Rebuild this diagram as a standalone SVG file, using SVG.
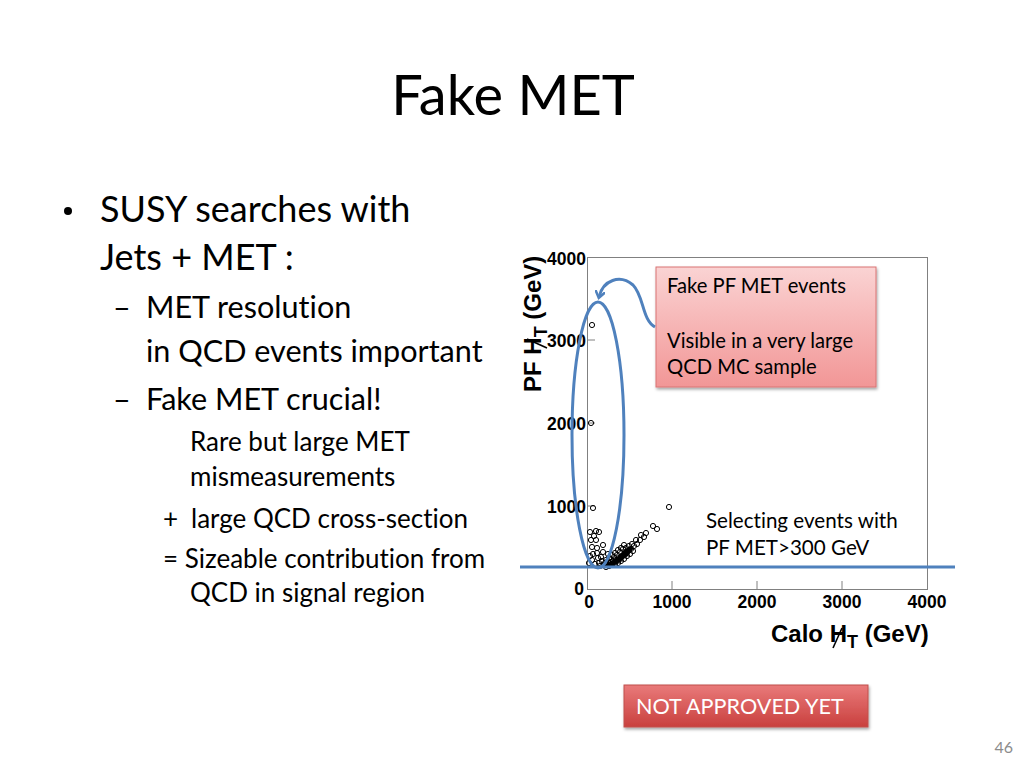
<svg xmlns="http://www.w3.org/2000/svg" width="1024" height="768" viewBox="0 0 1024 768">
<defs>
<style>
.t{font-family:Lato,"Open Sans",sans-serif;fill:#000;font-variant-ligatures:none}
.ax{font-family:"Liberation Sans",Arial,sans-serif;font-weight:bold;fill:#000}
.blue{fill:none;stroke:#4F81BD;stroke-width:3}
.pt{fill:none;stroke:#000;stroke-width:1}
</style>
<linearGradient id="pink" x1="0" y1="0" x2="0" y2="1">
<stop offset="0" stop-color="#FAD3D3"/>
<stop offset="1" stop-color="#F29696"/>
</linearGradient>
<linearGradient id="red" x1="0" y1="0" x2="0" y2="1">
<stop offset="0" stop-color="#E97A7A"/>
<stop offset="1" stop-color="#C9403E"/>
</linearGradient>
<filter id="sh" x="-10%" y="-10%" width="130%" height="140%">
<feDropShadow dx="1" dy="2" stdDeviation="1.5" flood-color="#000" flood-opacity="0.35"/>
</filter>
<marker id="ah" markerWidth="10" markerHeight="10" refX="6" refY="5" orient="auto" markerUnits="userSpaceOnUse">
<path d="M0,0 L7,5 L0,10" fill="none" stroke="#4F81BD" stroke-width="2.5"/>
</marker>
</defs>
<rect width="1024" height="768" fill="#fff"/>

<g id="title"><text class="t" x="513" y="115" font-size="56" text-anchor="middle">Fake MET</text></g>

<g id="bullets">
<circle cx="68" cy="211" r="4" fill="#000"/>
<text class="t" x="100" y="222" font-size="36">SUSY searches with</text>
<text class="t" x="100" y="270" font-size="36">Jets + MET :</text>
<text class="t" x="113" y="318" font-size="30.6">–</text>
<text class="t" x="146" y="318" font-size="30.6">MET resolution</text>
<text class="t" x="146" y="362" font-size="30.6">in QCD events important</text>
<text class="t" x="113" y="410" font-size="30.6">–</text>
<text class="t" x="146" y="410" font-size="30.6">Fake MET crucial!</text>
<text class="t" x="190" y="451" font-size="26">Rare but large MET</text>
<text class="t" x="190" y="486" font-size="26">mismeasurements</text>
<text class="t" x="163" y="528" font-size="26">+</text>
<text class="t" x="191" y="528" font-size="26">large QCD cross-section</text>
<text class="t" x="163" y="568" font-size="26">= Sizeable contribution from</text>
<text class="t" x="190" y="602" font-size="26">QCD in signal region</text>
</g>

<g id="plot">
<rect x="587.5" y="257.5" width="340" height="332" fill="none" stroke="#808080" stroke-width="1"/>
<g stroke="#808080" stroke-width="1">
<line x1="672" y1="589" x2="672" y2="581"/>
<line x1="757" y1="589" x2="757" y2="581"/>
<line x1="842" y1="589" x2="842" y2="581"/>
<line x1="587" y1="340" x2="595" y2="340"/>
<line x1="587" y1="423" x2="595" y2="423"/>
<line x1="587" y1="506" x2="595" y2="506"/>
</g>
<g class="ax" font-size="17.5" text-anchor="end">
<text x="586" y="265">4000</text>
<text x="586" y="347">3000</text>
<text x="586" y="430">2000</text>
<text x="586" y="513">1000</text>
<text x="584" y="595">0</text>
</g>
<g class="ax" font-size="17.5" text-anchor="middle">
<text x="589" y="608">0</text>
<text x="672" y="608">1000</text>
<text x="757" y="608">2000</text>
<text x="842" y="608">3000</text>
<text x="927" y="608">4000</text>
</g>
<text class="ax" x="771" y="642" font-size="24">Calo H<tspan font-size="18" dy="6">T</tspan><tspan dy="-6"> (GeV)</tspan></text>
<line x1="833" y1="648" x2="842" y2="628" stroke="#000" stroke-width="1.6"/>
<g transform="translate(541,392) rotate(-90)">
<text class="ax" x="0" y="0" font-size="24">PF H<tspan font-size="18" dy="6">T</tspan><tspan dy="-6"> (GeV)</tspan></text>
<line x1="44" y1="6" x2="53" y2="-14" stroke="#000" stroke-width="1.6"/>
</g>
<g id="points" class="pt">
<path d="M602,567 L612,561 L622,553 L630,546 L634,548 L628,556 L618,563 L610,567 Z" fill="#000" stroke="none"/>
<circle cx="592" cy="325" r="2.6"/>
<circle cx="591" cy="423" r="2.6"/>
<circle cx="593" cy="508" r="2.6"/>
<circle cx="669" cy="507" r="2.6"/>
<circle cx="590" cy="532" r="2.6"/><circle cx="596" cy="531" r="2.6"/><circle cx="599" cy="532" r="2.6"/>
<circle cx="591" cy="540" r="2.6"/><circle cx="596" cy="540" r="2.6"/><circle cx="592" cy="547" r="2.6"/>
<circle cx="597" cy="548" r="2.6"/><circle cx="593" cy="554" r="2.6"/><circle cx="592" cy="560" r="2.6"/>
<circle cx="603" cy="552" r="2.6"/><circle cx="598" cy="558" r="2.6"/><circle cx="589" cy="563" r="2.6"/>
<circle cx="595" cy="564" r="2.6"/><circle cx="590" cy="556" r="2.6"/>
<circle cx="653" cy="526" r="2.6"/><circle cx="657" cy="529" r="2.6"/><circle cx="646" cy="533" r="2.6"/>
<circle cx="644" cy="537" r="2.6"/><circle cx="640" cy="540" r="2.6"/><circle cx="637" cy="544" r="2.6"/>
<circle cx="634" cy="546" r="2.6"/><circle cx="631" cy="549" r="2.6"/><circle cx="628" cy="551" r="2.6"/>
<circle cx="625" cy="553" r="2.6"/><circle cx="629" cy="546" r="2.6"/><circle cx="622" cy="556" r="2.6"/>
<circle cx="619" cy="558" r="2.6"/><circle cx="616" cy="560" r="2.6"/><circle cx="613" cy="561" r="2.6"/>
<circle cx="610" cy="563" r="2.6"/><circle cx="607" cy="564" r="2.6"/><circle cx="604" cy="565" r="2.6"/>
<circle cx="620" cy="552" r="2.6"/><circle cx="617" cy="555" r="2.6"/><circle cx="614" cy="557" r="2.6"/>
<circle cx="611" cy="559" r="2.6"/><circle cx="608" cy="561" r="2.6"/><circle cx="623" cy="549" r="2.6"/>
<circle cx="626" cy="548" r="2.6"/><circle cx="612" cy="564" r="2.6"/><circle cx="618" cy="563" r="2.6"/>
<circle cx="624" cy="559" r="2.6"/><circle cx="630" cy="554" r="2.6"/><circle cx="615" cy="565" r="2.6"/>
<circle cx="621" cy="561" r="2.6"/><circle cx="627" cy="556" r="2.6"/><circle cx="633" cy="551" r="2.6"/>
<circle cx="609" cy="566" r="2.6"/><circle cx="606" cy="567" r="2.6"/><circle cx="602" cy="561" r="2.6"/>
<circle cx="600" cy="566" r="2.6"/><circle cx="603" cy="545" r="2.6"/>
<circle cx="609" cy="558" r="2.6"/><circle cx="612" cy="555" r="2.6"/><circle cx="615" cy="553" r="2.6"/>
<circle cx="618" cy="550" r="2.6"/><circle cx="621" cy="548" r="2.6"/><circle cx="624" cy="545" r="2.6"/>
<circle cx="606" cy="560" r="2.6"/><circle cx="605" cy="563" r="2.6"/><circle cx="611" cy="562" r="2.6"/>
<circle cx="614" cy="563" r="2.6"/><circle cx="617" cy="561" r="2.6"/><circle cx="620" cy="559" r="2.6"/>
<circle cx="623" cy="555" r="2.6"/><circle cx="626" cy="552" r="2.6"/><circle cx="629" cy="550" r="2.6"/>
<circle cx="632" cy="544" r="2.6"/><circle cx="636" cy="540" r="2.6"/><circle cx="641" cy="535" r="2.6"/>
<circle cx="599" cy="563" r="2.6"/><circle cx="601" cy="557" r="2.6"/><circle cx="594" cy="536" r="2.6"/>
<circle cx="597" cy="553" r="2.6"/><circle cx="608" cy="554" r="2.6"/>
</g>
</g>

<g id="selection">
<line class="blue" x1="520" y1="567" x2="955" y2="567"/>
<ellipse class="blue" cx="598" cy="435" rx="26" ry="133"/>
</g>

<g id="callout">
<rect x="656" y="267" width="220" height="120" fill="url(#pink)" stroke="#D97575" stroke-width="1" filter="url(#sh)"/>
<text class="t" x="667" y="293" font-size="20.2">Fake PF MET events</text>
<text class="t" x="667" y="348" font-size="20.2">Visible in a very large</text>
<text class="t" x="667" y="374" font-size="20.2">QCD MC sample</text>
</g>

<g id="connectors">
<path class="blue" d="M655,327 C642,320 644,296 633,285 C620,274 603,280 599,297" marker-end="url(#ah)"/>
</g>

<g id="selnote">
<text class="t" x="706" y="528" font-size="20.6">Selecting events with</text>
<text class="t" x="706" y="555" font-size="20.6">PF MET&gt;300 GeV</text>
</g>

<g id="status">
<rect x="624" y="685" width="244" height="42" fill="url(#red)" stroke="#C0504D" stroke-width="1" filter="url(#sh)"/>
<text class="t" x="636" y="714" font-size="21.6" style="fill:#fff">NOT APPROVED YET</text>
</g>

<text class="t" x="1013" y="753" font-size="16" text-anchor="end" style="fill:#8C8C8C">46</text>
</svg>
